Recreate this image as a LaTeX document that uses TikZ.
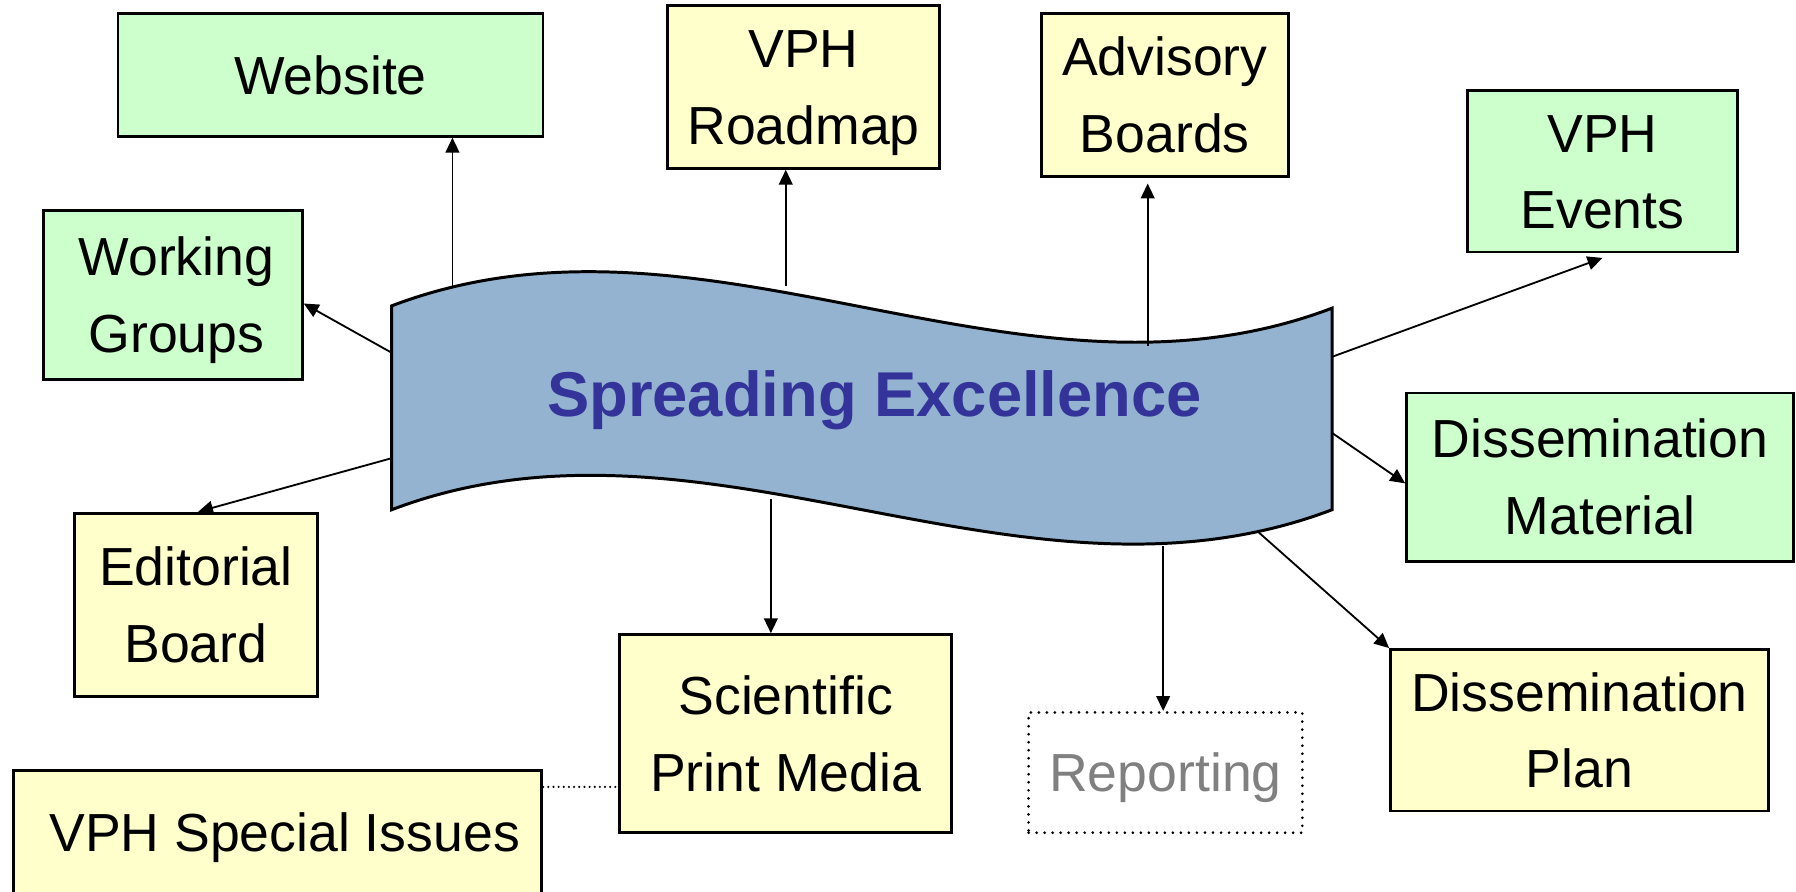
\documentclass[tikz,border=0pt]{standalone}
\usepackage{fontspec}
\setmainfont{Liberation Sans}
\usetikzlibrary{arrows.meta,calc}
\definecolor{boxgreen}{HTML}{CCFFCC}
\definecolor{boxyellow}{HTML}{FFFFCC}
\definecolor{bannerblue}{RGB}{147,179,208}
\definecolor{titleblue}{HTML}{333399}
\definecolor{repgray}{HTML}{808080}
\begin{document}
\begin{tikzpicture}[x=1pt,y=-1pt,
  box/.style={draw=black, line width=2.4pt, inner sep=0pt, align=center,
    font=\fontsize{46.8}{67}\selectfont},
  one/.style={text height=33.5pt, text depth=0pt},
  two/.style={text height=100.5pt, text depth=0pt},
  gbox/.style={box, fill=boxgreen},
  ybox/.style={box, fill=boxyellow},
  arr/.style={line width=1.6pt, -{Triangle[length=13pt,width=12pt]}},
  dotline/.style={line width=2.1pt, dash pattern=on 0pt off 4.5pt, line cap=round},
  banner/.style={draw=black, line width=2.6pt, fill=bannerblue, line join=miter}
]
\useasboundingbox (0,0) rectangle (1568,778);

% banner
\draw[banner] (342,267) .. controls (615.67,163) and (889.33,373) .. (1163,269)
  -- (1163,445) .. controls (889.33,549) and (615.67,341) .. (342,445) -- cycle;
\node[font=\fontsize{55.3}{66}\selectfont\bfseries, text=titleblue, anchor=base]
  (title) at (763.5,364) {Spreading Excellence};

% boxes
\node[gbox, one, minimum width=371pt, minimum height=107pt] (web) at (288.5,65.5) {Website};
\node[gbox, two, minimum width=226pt, minimum height=147pt] (wg) at (151,257.5) {\hspace*{6pt}Working\\\hspace*{6pt}Groups};
\node[ybox, two, minimum width=237pt, minimum height=142pt] (road) at (701.5,76) {VPH\\Roadmap};
\node[ybox, two, minimum width=216pt, minimum height=142pt] (adv) at (1017,83) {Advisory\\Boards};
\node[gbox, two, minimum width=236pt, minimum height=141pt] (evt) at (1399,149.5) {VPH\\Events};
\node[gbox, two, minimum width=338pt, minimum height=147pt] (dmat) at (1397,416.5) {Dissemination\\Material};
\node[ybox, two, minimum width=212pt, minimum height=160pt] (ed) at (171,528) {Editorial\\Board};
\node[ybox, two, minimum width=290pt, minimum height=173pt] (spm) at (686,640.5) {Scientific\\Print Media};
\node[box, one, draw=black, line width=2.6pt, dash pattern=on 0pt off 7pt, line cap=round, text=repgray,
  minimum width=239pt, minimum height=105pt] (rep) at (1017.5,674.5) {Reporting};
\node[ybox, two, minimum width=330pt, minimum height=141pt] (dplan) at (1379,637.5) {Dissemination\\Plan};
\node[ybox, one, minimum width=461pt, minimum height=107pt] (vsi) at (242.5,726.5) {\hspace*{12pt}VPH Special Issues};

% connector start points on the banner
\coordinate (s1) at (395,250);
\coordinate (s2) at (342,308);
\coordinate (s3) at (686,250);
\coordinate (s4) at (1002,302);
\coordinate (s5) at (1163,311.5);
\coordinate (s6) at (1163,378);
\coordinate (s7) at (342,400);
\coordinate (s8) at (673,436);
\coordinate (s9) at (1015.5,477);
\coordinate (s10) at (1098,464);
\coordinate (d1) at (473,687);

% connectors
\draw[arr] (s1) -- (s1 |- web.south);
\draw[arr] (s2) -- ([yshift=-7.5pt]wg.east);
\draw[arr] (s3) -- (s3 |- road.south);
\draw[arr, shorten >=5pt] (s4) -- (s4 |- adv.south);
\draw[arr] (s5) -- ([yshift=-4pt]evt.south);
\draw[arr] (s6) -- ([yshift=-5.5pt]dmat.west);
\draw[arr] (s7) -- ([xshift=2pt]ed.north);
\draw[arr] (s8) -- (s8 |- spm.north);
\draw[arr] (s9) -- (s9 |- rep.north);
\draw[arr] (s10) -- (dplan.north west);
\draw[dotline] (d1 -| vsi.east) -- (d1 -| spm.west);
\end{tikzpicture}
\end{document}
